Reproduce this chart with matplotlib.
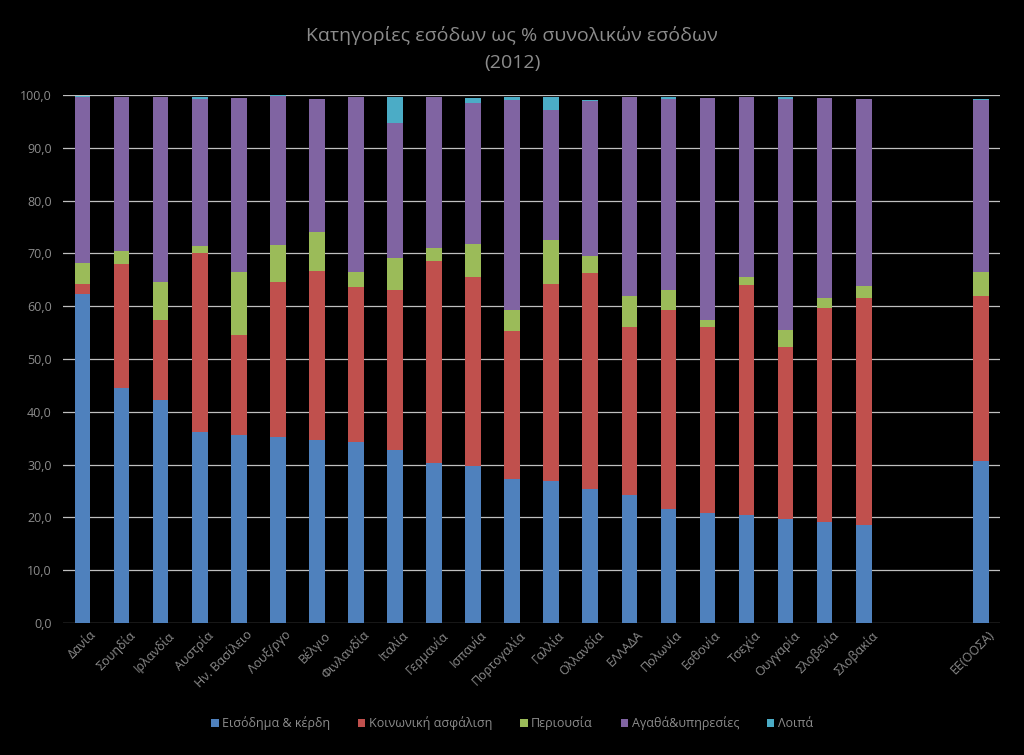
"""
Stacked bar chart: revenue categories as % of total revenue (2012).
"""
import numpy as np
import matplotlib
matplotlib.use('Agg')
import matplotlib.pyplot as plt
import matplotlib.transforms as mtransforms
from matplotlib.ticker import FuncFormatter

plt.rcParams['font.family'] = ['Open Sans', 'DejaVu Sans']

# ============================================================
# DATA
# ============================================================
countries = ['Δανία', 'Σουηδία', 'Ιρλανδία', 'Αυστρία', 'Ην. Βασίλειο', 'Λουξ/ργο',
             'Βέλγιο', 'Φινλανδία', 'Ιταλία', 'Γερμανία', 'Ισπανία', 'Πορτογαλία',
             'Γαλλία', 'Ολλανδία', 'ΕΛΛΑΔΑ', 'Πολωνία', 'Εσθονία', 'Τσεχία',
             'Ουγγαρία', 'Σλοβενία', 'Σλοβακία', 'ΕΕ(ΟΟΣΑ)']

income = [62.3, 44.5, 42.3, 36.2, 35.6, 35.2, 34.7, 34.2, 32.7, 30.3, 29.8, 27.2,
          26.9, 25.3, 24.2, 21.5, 20.8, 20.4, 19.7, 19.1, 18.5, 30.6]
social = [2.0, 23.5, 15.1, 33.9, 18.9, 29.3, 32.0, 29.5, 30.3, 38.3, 35.7, 28.1,
          37.3, 41.0, 31.9, 37.7, 35.3, 43.6, 32.6, 40.6, 43.1, 31.3]
property_ = [3.8, 2.4, 7.1, 1.3, 11.9, 7.1, 7.4, 2.8, 6.2, 2.4, 6.3, 4.0,
             8.4, 3.2, 5.8, 3.8, 1.2, 1.6, 3.2, 1.8, 2.3, 4.6]
goods = [31.5, 29.2, 35.1, 27.8, 33.0, 28.2, 25.1, 33.1, 25.6, 28.6, 26.8, 39.7,
         24.6, 29.3, 37.7, 36.3, 42.1, 34.0, 43.7, 37.9, 35.3, 32.5]
other = [0.2, 0.1, 0.0, 0.4, 0.0, 0.2, 0.0, 0.1, 4.8, 0.0, 0.8, 0.6,
         2.5, 0.2, 0.0, 0.3, 0.0, 0.0, 0.4, 0.0, 0.0, 0.3]

series_names = ['Εισόδημα & κέρδη', 'Κοινωνική ασφάλιση', 'Περιουσία',
                'Αγαθά&υπηρεσίες', 'Λοιπά']
series = [income, social, property_, goods, other]
colors = ['#4F81BD', '#C0504D', '#9BBB59', '#8064A2', '#4BACC6']

# ============================================================
# FIGURE
# ============================================================
BG = '#000000'
TXT = '#8C8C8C'
GRID = '#BFBFBF'

fig = plt.figure(figsize=(10.24, 7.55), dpi=100, facecolor=BG)
ax = fig.add_axes([0.0615, 0.175, 0.9155, 0.699])
ax.set_facecolor(BG)

# EE(ΟΟΣΑ) stands apart, after two empty slots
x = np.arange(len(countries), dtype=float)
x[-1] += 2

bottom = np.zeros(len(countries))
for name, vals, col in zip(series_names, series, colors):
    vals = np.array(vals)
    ax.bar(x, vals, width=0.4, bottom=bottom, color=col, label=name,
           zorder=3, linewidth=0)
    bottom += vals

ax.set_xlim(-0.5, 23.5)
ax.set_ylim(0, 100)
ax.set_yticks(np.arange(0, 101, 10))
ax.yaxis.set_major_formatter(FuncFormatter(lambda v, p: f'{v:.1f}'.replace('.', ',')))
ax.grid(axis='y', color=GRID, linewidth=0.9, zorder=0)
ax.set_axisbelow(True)

for spine in ax.spines.values():
    spine.set_visible(False)

ax.tick_params(axis='y', length=0, labelsize=9, labelcolor=TXT, pad=8)
ax.tick_params(axis='x', length=0, labelsize=9, labelcolor=TXT, pad=4)
ax.set_xticks(x)
ax.set_xticklabels(countries, rotation=45, ha='right', rotation_mode='anchor')

# nudge the rotated labels a little to the right, like the original
shift = mtransforms.ScaledTranslation(5 / 72, 0, fig.dpi_scale_trans)
for lbl in ax.get_xticklabels():
    lbl.set_transform(lbl.get_transform() + shift)

# ============================================================
# TITLE + LEGEND
# ============================================================
fig.text(0.5, 0.953, 'Κατηγορίες εσόδων ως % συνολικών εσόδων',
         fontsize=14, color=TXT, ha='center', va='center')
fig.text(0.5, 0.917, '(2012)', fontsize=14, color=TXT, ha='center', va='center')

leg = fig.legend(loc='center', bbox_to_anchor=(0.5, 0.042), ncol=5, frameon=False,
                 fontsize=9, handlelength=0.6, handleheight=0.6, handletextpad=0.3,
                 columnspacing=2.2)
for t in leg.get_texts():
    t.set_color(TXT)

fig.savefig('out.png', dpi=100, facecolor=BG)
